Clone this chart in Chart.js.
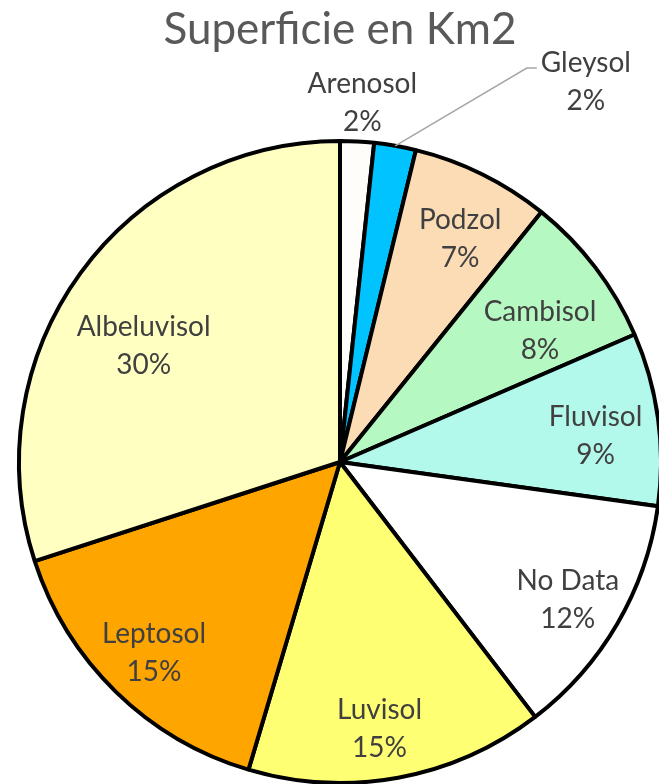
<!DOCTYPE html>
<html>
<head>
<meta charset="utf-8">
<script src="https://cdn.jsdelivr.net/npm/chart.js@4"></script>
<style>
  html, body { margin: 0; padding: 0; background: #fff; overflow: hidden; }
  #wrap { width: 659px; height: 784px; }
</style>
</head>
<body>
<div id="wrap"><canvas id="chart" width="659" height="784"></canvas></div>
<script>
const TITLE = "Superficie en Km2";
const soilTypes = ["Arenosol", "Gleysol", "Podzol", "Cambisol", "Fluvisol", "No Data", "Luvisol", "Leptosol", "Albeluvisol"];
const shares = [1.7, 2.1, 7.0, 7.7, 8.7, 12.4, 15.0, 15.4, 30.0];
const sliceColors = ["#fffdfa", "#00c3ff", "#fbdcb5", "#b5f8c2", "#b2f9ec", "#ffffff", "#ffff73", "#ffa500", "#ffffc2"];

// label placement relative to each slice: [radius factor, angle shift in degrees]
const labelPlacement = [
  [1.12, 0.5], [1.41, 23], [0.79, 2], [0.745, 4], [0.80, 2],
  [0.83, 1], [0.84, 2], [0.83, 0], [0.71, -5.5],
];
const FONT = "Lato, 'Open Sans', sans-serif";

const labelsPlugin = {
  id: "sliceLabels",
  afterDatasetsDraw(chart) {
    const ctx = chart.ctx;
    const meta = chart.getDatasetMeta(0);
    const total = shares.reduce((a, b) => a + b, 0);
    ctx.save();
    ctx.font = `28px ${FONT}`;
    ctx.fillStyle = "#404040";
    ctx.textAlign = "center";
    ctx.textBaseline = "middle";
    meta.data.forEach((arc, i) => {
      const { x, y, startAngle, endAngle, outerRadius } = arc.getProps(["x", "y", "startAngle", "endAngle", "outerRadius"], true);
      const mid = (startAngle + endAngle) / 2;
      const [f, shift] = labelPlacement[i];
      const a = mid + shift * Math.PI / 180;
      const lx = x + Math.cos(a) * outerRadius * f;
      const ly = y + Math.sin(a) * outerRadius * f;
      const pct = Math.round(shares[i] / total * 100) + "%";
      ctx.fillText(soilTypes[i], lx, ly - 19);
      ctx.fillText(pct, lx, ly + 19);
      if (shift > 10) {
        // leader line for labels moved away from their slice
        const w = ctx.measureText(soilTypes[i]).width;
        const ex = lx - w / 2 - 4;
        const ey = ly - 14;
        ctx.beginPath();
        ctx.strokeStyle = "#a6a6a6";
        ctx.lineWidth = 1.5;
        ctx.moveTo(x + Math.cos(mid) * outerRadius, y + Math.sin(mid) * outerRadius);
        ctx.lineTo(ex - 10, ey);
        ctx.lineTo(ex, ey);
        ctx.stroke();
      }
    });
    ctx.font = `44px ${FONT}`;
    ctx.fillStyle = "#595959";
    ctx.fillText(TITLE, 340, 30);
    ctx.restore();
  },
};

new Chart(document.getElementById("chart"), {
  type: "pie",
  data: {
    labels: soilTypes,
    datasets: [{
      data: shares,
      backgroundColor: sliceColors,
      borderColor: "#000000",
      borderWidth: 4,
      clip: false,
    }],
  },
  options: {
    responsive: false,
    animation: false,
    radius: 321,
    layout: { padding: { left: 21, right: 0, top: 140, bottom: 0 } },
    plugins: {
      legend: { display: false },
      title: { display: false },
      tooltip: { enabled: false },
    },
  },
  plugins: [labelsPlugin],
});
</script>
</body>
</html>
